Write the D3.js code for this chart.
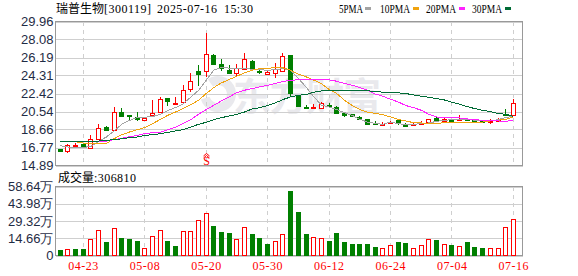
<!DOCTYPE html>
<html>
<head>
<meta charset="utf-8">
<title>K</title>
<script src="https://d3js.org/d3.v7.min.js"></script>
<style>
  html, body { margin: 0; padding: 0; background: #fff; }
  svg { display: block; }
</style>
</head>
<body>
<script>
var dates = ["04-18","04-21","04-22","04-23","04-24","04-25","04-28","04-29","04-30","05-06","05-07","05-08","05-09","05-12","05-13","05-14","05-15","05-16","05-19","05-20","05-21","05-22","05-23","05-26","05-27","05-28","05-29","05-30","06-03","06-04","06-05","06-06","06-09","06-10","06-11","06-12","06-13","06-16","06-17","06-18","06-19","06-20","06-23","06-24","06-25","06-26","06-27","06-30","07-01","07-02","07-03","07-04","07-07","07-08","07-09","07-10","07-11","07-14","07-15","07-16"];
var open = [16.64,16.40,17.00,17.10,16.75,17.66,18.88,18.64,20.49,20.21,20.00,19.69,20.18,20.49,21.93,21.37,21.58,22.94,24.73,24.73,26.44,25.50,24.87,24.59,25.04,25.81,24.80,24.48,24.52,24.73,26.44,22.24,21.02,20.98,20.95,21.26,21.02,20.35,20.25,19.97,19.72,19.36,19.21,19.37,19.65,19.27,19.16,19.27,19.44,19.83,19.55,19.72,19.69,19.76,19.69,19.58,19.51,19.58,20.32,20.21];
var close = [16.36,17.06,17.06,16.78,17.69,18.85,18.57,20.53,20.11,20.11,19.79,19.86,20.42,21.89,21.61,21.47,22.84,23.78,24.48,26.51,25.50,25.08,24.59,25.08,25.99,25.01,24.73,24.66,25.04,26.30,22.49,21.09,20.98,21.02,21.40,21.19,20.35,20.14,20.07,19.79,19.20,19.34,19.24,19.41,19.30,19.02,19.20,19.34,19.79,19.62,19.79,19.58,19.76,19.65,19.55,19.44,19.58,19.79,20.14,21.47];
var high = [16.64,17.17,17.24,17.24,18.11,19.20,19.02,20.98,20.88,20.21,20.53,19.97,21.72,22.10,21.93,22.03,23.29,24.52,25.39,28.75,26.51,26.02,25.39,25.50,26.65,25.88,25.04,24.83,25.60,26.62,26.44,22.28,21.26,21.37,21.54,21.44,21.16,20.46,20.32,20.07,19.79,19.55,19.41,19.55,19.72,19.30,19.34,19.51,19.79,19.97,19.86,19.79,20.14,19.86,19.72,19.69,19.72,19.90,20.77,21.82];
var low = [16.26,16.19,16.82,16.75,16.75,17.66,18.46,18.64,19.97,19.58,19.55,19.58,20.18,20.49,21.09,21.19,21.44,22.59,23.19,24.17,25.43,24.80,24.52,24.27,24.94,24.94,24.48,24.34,24.06,24.66,22.20,20.98,20.77,20.77,20.88,21.03,20.25,19.97,19.93,19.62,19.09,19.20,18.99,19.27,19.16,19.00,19.02,19.09,19.44,19.44,19.51,19.44,19.51,19.51,19.50,19.30,19.27,19.51,20.14,20.14];
var ma5 = [16.96,16.82,16.78,16.78,16.89,17.41,17.87,18.50,19.20,19.60,19.90,19.95,20.00,20.25,20.65,20.95,21.35,22.05,22.75,23.80,24.87,25.15,25.08,25.04,25.04,24.97,24.90,24.87,24.90,25.04,24.87,24.00,23.10,22.10,21.20,21.00,20.74,20.42,20.14,19.72,19.44,19.30,19.20,19.44,19.27,19.16,19.20,19.27,19.34,19.51,19.62,19.69,19.72,19.72,19.62,19.55,19.55,19.69,19.90,20.07];
var ma10 = [17.45,17.45,17.38,17.24,17.17,17.17,17.20,17.69,18.11,18.39,18.64,18.85,19.27,19.69,20.14,20.49,20.84,21.26,21.72,22.42,23.05,23.54,23.89,24.24,24.59,24.87,25.04,25.08,25.11,25.11,24.87,24.45,24.17,23.82,23.47,22.84,22.42,21.72,21.19,20.74,20.46,20.35,20.21,19.97,19.72,19.55,19.37,19.34,19.30,19.30,19.37,19.41,19.44,19.44,19.44,19.44,19.55,19.62,19.72,19.97];
var ma20 = [17.45,17.45,17.45,17.45,17.45,17.45,17.45,17.59,17.73,17.90,18.04,18.22,18.32,18.36,18.64,18.88,19.27,19.69,20.25,20.74,21.19,21.65,22.07,22.52,22.77,22.94,23.12,23.29,23.47,23.68,23.82,23.85,23.85,23.85,23.85,23.85,23.71,23.47,23.29,23.05,22.77,22.38,22.14,21.82,21.54,21.16,20.95,20.67,20.25,19.97,19.90,19.90,19.86,19.76,19.69,19.62,19.58,19.55,19.51,19.62];
var ma30 = [17.45,17.45,17.45,17.45,17.45,17.45,17.52,17.59,17.69,17.80,17.87,18.04,18.11,18.22,18.36,18.50,18.64,18.92,19.20,19.41,19.69,19.90,20.07,20.25,20.49,20.81,20.95,21.16,21.44,21.79,22.07,22.24,22.31,22.56,22.70,22.73,22.73,22.73,22.73,22.70,22.70,22.66,22.56,22.49,22.49,22.42,22.28,22.14,22.03,21.89,21.75,21.51,21.30,21.05,20.84,20.67,20.53,20.32,20.25,20.04];
var volume = [4.3,5.7,5.1,5.1,14.2,21.9,11.1,23.6,14.5,13.6,11.9,6.5,16.8,21.9,11.9,7.7,21,21,30.4,36.4,24.7,19.6,18.8,14.2,24.4,17.9,14.5,9.4,12.5,18.5,54.5,36.6,17.9,15.9,15.1,11.9,18.8,11.1,9.4,9.4,9.4,6.8,6.5,9.1,11.1,10.2,6.5,9.1,14.2,12.8,9.9,8.5,8.2,11.1,6.8,6,6.5,6.5,24.4,30.68];
var volumeUp = [0,1,0,0,1,1,0,1,0,0,0,1,1,1,0,0,1,1,1,1,0,0,0,1,1,0,0,0,1,1,0,0,0,1,1,0,0,0,0,0,0,0,1,1,0,0,1,1,1,0,1,0,1,0,0,0,1,1,1,1];
var priceTicks = ["29.96","28.08","26.19","24.31","22.42","20.54","18.66","16.77","14.89"];
var volumeTicks = [14.66,29.32,43.98,58.64];
var dateTicks = ["04-23","05-08","05-20","05-30","06-12","06-24","07-04","07-16"];
var maNames = ["5PMA","10PMA","20PMA","30PMA"];
var maColors = ["#a3a3a3","#f0a30f","#ff22ff","#006b35"];

var width = 578, height = 276;
var left = 55.5, right = 522.5;
var red = "#ff0000", green = "#007f00", labelColor = "#1f2c45", gridColor = "#cfcfcf", borderColor = "#999";
var serif = "'Liberation Serif','Noto Sans CJK SC',serif";
var sans = "'Liberation Sans',Arial,sans-serif";

var svg = d3.select("body").append("svg")
    .attr("width", width)
    .attr("height", height);

var x = d3.scaleBand().domain(dates).range([56.42, 517.22]);
var cx = function (d) { return x(d) + x.bandwidth() / 2; };
var snap = function (v) { return Math.floor(v) + 0.5; };
var y = d3.scaleLinear().domain([14.89, 29.96]).range([165.5, 21.5]);
var yv = d3.scaleLinear().domain([0, 58.64]).range([255.5, 186.5]);

// watermark under the grid
var mark = svg.append("g").attr("fill", "#e9e9ed");
mark.append("text")
    .attr("x", 233).attr("y", 110)
    .attr("font-family", "'Noto Sans CJK SC'")
    .attr("font-weight", 700)
    .attr("font-size", 38)
    .attr("textLength", 148)
    .text("东方财富");
mark.append("path")
    .attr("transform", "translate(218,94)")
    .attr("d", d3.arc()({ innerRadius: 9, outerRadius: 18, startAngle: -0.6, endAngle: 4.4 }));

// price grid and axis
svg.append("g")
    .attr("transform", "translate(" + left + ",0)")
    .call(d3.axisLeft(y).tickValues(priceTicks.map(Number)).tickSize(-(right - left)).tickPadding(2).tickFormat(d3.format(".2f")))
    .call(function (g) {
        g.select(".domain").remove();
        g.selectAll("line").attr("stroke", gridColor).attr("shape-rendering", "crispEdges");
        g.selectAll("text").attr("fill", labelColor).attr("font-family", sans).attr("font-size", 13);
    });

// volume grid and axis
svg.append("g")
    .attr("transform", "translate(" + left + ",0)")
    .call(d3.axisLeft(yv).tickValues([0].concat(volumeTicks)).tickSize(-(right - left)).tickPadding(2)
        .tickFormat(function (d) { return d ? d3.format(".2f")(d) + "万" : "0"; }))
    .call(function (g) {
        g.select(".domain").remove();
        g.selectAll("line").attr("stroke", gridColor).attr("shape-rendering", "crispEdges");
        g.selectAll("text").attr("fill", labelColor).attr("font-family", sans).attr("font-size", 13);
    });

// dashed date lines
[[21.5, 165.5], [186.5, 255.5]].forEach(function (r) {
    svg.append("g").selectAll("line").data(dateTicks).enter().append("line")
        .attr("x1", function (d) { return snap(cx(d)); })
        .attr("x2", function (d) { return snap(cx(d)); })
        .attr("y1", r[0]).attr("y2", r[1])
        .attr("stroke", gridColor)
        .attr("stroke-dasharray", "4,4")
        .attr("shape-rendering", "crispEdges");
});

// frames
[[21.5, 165.5], [186.5, 255.5]].forEach(function (r) {
    svg.append("rect")
        .attr("x", left).attr("y", r[0])
        .attr("width", right - left).attr("height", r[1] - r[0])
        .attr("fill", "none")
        .attr("stroke", borderColor)
        .attr("shape-rendering", "crispEdges");
});

// candles
var candles = svg.append("g").attr("shape-rendering", "crispEdges");
dates.forEach(function (d, i) {
    var up = close[i] >= open[i];
    var c = up ? red : green;
    var top = Math.round(y(Math.max(open[i], close[i])));
    var bottom = Math.round(y(Math.min(open[i], close[i])));
    var px = snap(cx(d));
    candles.append("line")
        .attr("x1", px).attr("x2", px)
        .attr("y1", y(high[i])).attr("y2", y(low[i]))
        .attr("stroke", c);
    candles.append("rect")
        .attr("x", px - 2).attr("y", top + 0.5)
        .attr("width", 4).attr("height", Math.max(bottom - top, 1))
        .attr("fill", up ? "#fff" : c)
        .attr("stroke", c);
});

// moving averages
[ma5, ma10, ma20, ma30].forEach(function (values, k) {
    var line = d3.line()
        .x(function (v, i) { return cx(dates[i]); })
        .y(function (v) { return y(v); });
    svg.append("path")
        .attr("d", line(values))
        .attr("fill", "none")
        .attr("stroke", maColors[k])
        .attr("stroke-width", 1)
        .attr("shape-rendering", "crispEdges");
});

// volume bars
svg.append("g").attr("shape-rendering", "crispEdges")
    .selectAll("rect").data(dates).enter().append("rect")
    .attr("x", function (d) { return snap(cx(d)) - 2; })
    .attr("y", function (d, i) { return Math.round(yv(volume[i])) + 0.5; })
    .attr("width", 4)
    .attr("height", function (d, i) { return yv(0) - Math.round(yv(volume[i])) - 0.5; })
    .attr("fill", function (d, i) { return volumeUp[i] ? "#fff" : green; })
    .attr("stroke", function (d, i) { return volumeUp[i] ? red : green; });

// S marker
var sx = snap(cx("05-20"));
svg.append("text")
    .attr("x", sx).attr("y", 165)
    .attr("text-anchor", "middle")
    .attr("font-family", serif)
    .attr("font-size", 12)
    .attr("fill", red)
    .text("S");
svg.append("path")
    .attr("d", d3.line()([[sx - 3, 156], [sx, 153.5], [sx + 3, 156]]) + d3.line()([[sx - 3, 158], [sx, 155.5], [sx + 3, 158]]))
    .attr("fill", "none")
    .attr("stroke", red);

// date labels
svg.append("g").selectAll("text").data(dateTicks).enter().append("text")
    .attr("x", cx)
    .attr("y", 270)
    .attr("text-anchor", "middle")
    .attr("font-family", serif)
    .attr("font-size", 12)
    .attr("textLength", 30)
    .attr("fill", red)
    .text(function (d) { return d; });

// title
function label(txt, px, py, w, squeeze) {
    var t = svg.append("text")
        .attr("x", px).attr("y", py)
        .attr("font-family", serif)
        .attr("font-size", 12)
        .attr("fill", "#000")
        .text(txt);
    if (w) t.attr("textLength", w);
    if (squeeze) t.attr("lengthAdjust", "spacingAndGlyphs");
}
label("瑞普生物", 56, 13);
label("[300119]", 104, 13, 47);
label("2025-07-16", 157, 13, 60);
label("15:30", 224, 13, 29);
label("成交量", 58, 182);
label(":306810", 94, 182, 42);

// legend
var legendX = [339, 380, 426, 472], legendW = [24, 30, 30, 30], swatchX = [365, 413, 459, 505];
maNames.forEach(function (n, k) {
    label(n, legendX[k], 13, legendW[k], true);
    svg.append("rect")
        .attr("x", swatchX[k]).attr("y", 7)
        .attr("width", 6).attr("height", 3)
        .attr("fill", maColors[k]);
});
</script>
</body>
</html>
